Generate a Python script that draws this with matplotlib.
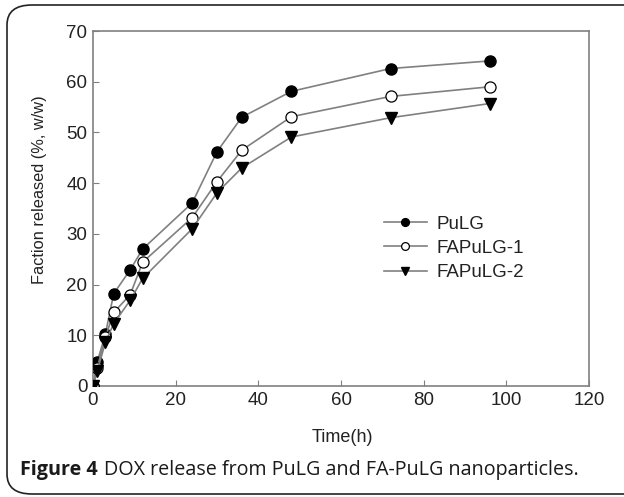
import matplotlib
matplotlib.use("Agg")
import matplotlib.pyplot as plt
from matplotlib.patches import FancyBboxPatch

time_h = [0, 1, 3, 5, 9, 12, 24, 30, 36, 48, 72, 96]
pulg = [0, 4.7, 10.2, 18.2, 22.9, 27.0, 36.1, 46.2, 53.0, 58.1, 62.6, 64.1]
fapulg1 = [0, 3.5, 9.6, 14.5, 18.0, 24.4, 33.2, 40.3, 46.5, 53.1, 57.1, 59.0]
fapulg2 = [0, 2.9, 8.6, 12.3, 16.9, 21.2, 31.0, 38.1, 43.0, 49.1, 52.9, 55.7]
xticks = [0, 20, 40, 60, 80, 100, 120]
yticks = [0, 10, 20, 30, 40, 50, 60, 70]

plt.rcParams['font.family'] = ['Liberation Sans', 'DejaVu Sans']

W, H = 624, 497
fig = plt.figure(figsize=(W / 100, H / 100), dpi=100)

# frame
box = FancyBboxPatch((7 / W, 3 / H), 700 / W, 489 / H,
                     boxstyle="round,pad=0,rounding_size=0.04",
                     transform=fig.transFigure, fill=False,
                     edgecolor='#222222', linewidth=1.2, clip_on=False)
fig.patches.append(box)

ax = fig.add_axes([93 / W, 1 - 386 / H, (589 - 93) / W, (386 - 31) / H])

gray = '#808080'
txt = '#222222'
ax.plot(time_h, pulg, '-o', color=gray, lw=1.2, markerfacecolor='black',
        markeredgecolor='black', markersize=8, label='PuLG', zorder=3)
ax.plot(time_h, fapulg1, '-o', color=gray, lw=1.2, markerfacecolor='white',
        markeredgecolor='black', markeredgewidth=0.9, markersize=8,
        label='FAPuLG-1', zorder=3)
ax.plot(time_h, fapulg2, '-v', color=gray, lw=1.2, markerfacecolor='black',
        markeredgecolor='black', markersize=8, label='FAPuLG-2', zorder=3)

ax.set_xlim(0, 120)
ax.set_ylim(0, 70)
ax.set_xticks(xticks)
ax.set_yticks(yticks)
ax.tick_params(direction='in', length=4, color=gray, labelsize=13.5,
               labelcolor=txt, pad=4)
for s in ax.spines.values():
    s.set_color(gray)
    s.set_linewidth(1.2)

ax.set_xlabel('Time(h)', fontsize=13, color=txt)
ax.xaxis.set_label_coords((342 - 93) / 496, -(438 - 386) / 355)
ax.xaxis.label.set_va('center')
ax.set_ylabel('Faction released (%, w/w)', fontsize=11.8, color=txt)
ax.yaxis.set_label_coords((40 - 93) / 496, (386 - 190) / 355)
ax.yaxis.label.set_va('center')

leg = ax.legend(loc='upper left',
                bbox_to_anchor=((381 - 93) / 496 - 0.01, (386 - 208) / 355),
                frameon=False, fontsize=13.5, handlelength=2.3, handletextpad=0.55,
                labelspacing=0.38, borderaxespad=0, markerscale=0.7)
for t in leg.get_texts():
    t.set_color(txt)

cap_y = 1 - 470 / H
t1 = fig.text(20 / W, cap_y, 'Figure 4', fontsize=14.2, fontweight='bold',
              family=['Open Sans', 'DejaVu Sans'], va='center', ha='left',
              color='#1a1a1a')
fig.canvas.draw()
bb = t1.get_window_extent()
fig.text((bb.x1 + 6) / W, cap_y, 'DOX release from PuLG and FA-PuLG nanoparticles.',
         fontsize=14.2, family=['Open Sans', 'DejaVu Sans'], va='center',
         ha='left', color='#1a1a1a')

fig.savefig('out.png', dpi=100)
